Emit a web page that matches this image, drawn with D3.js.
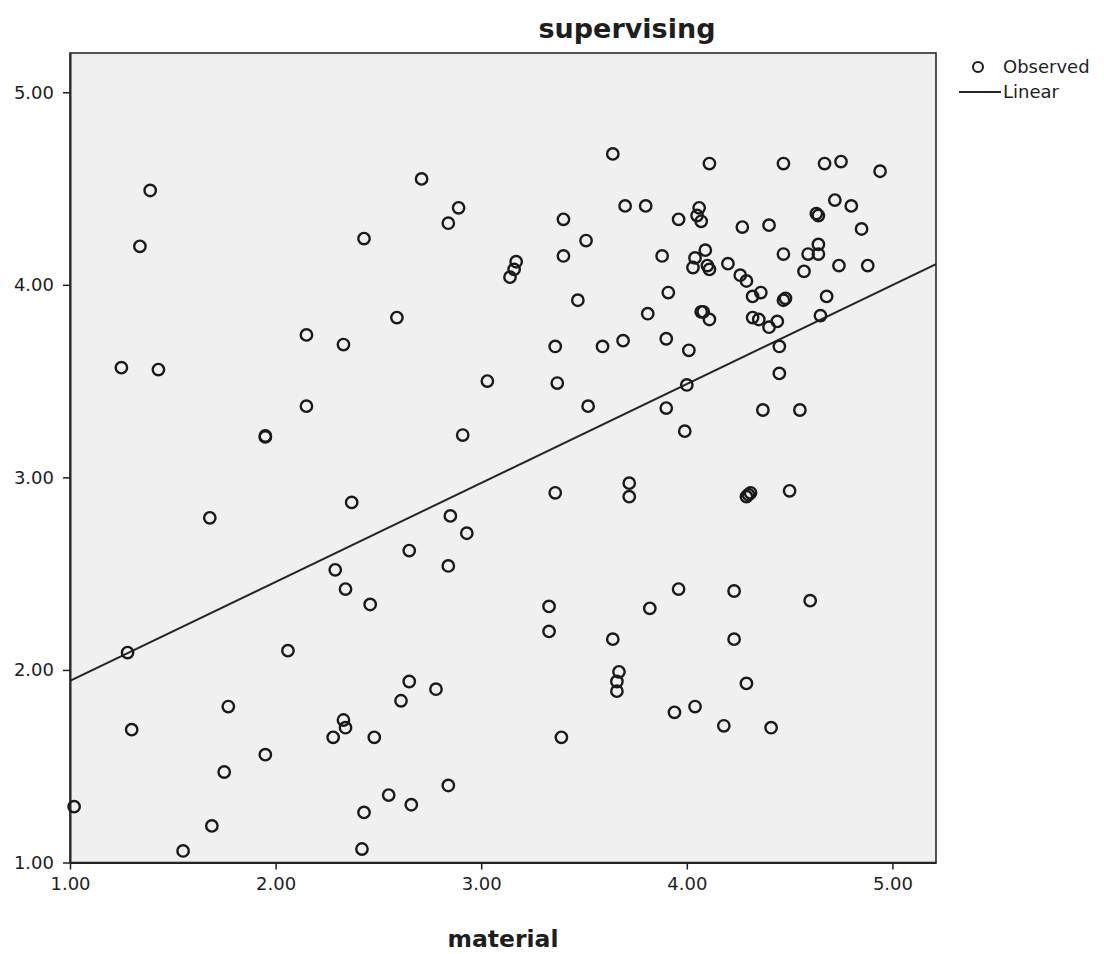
<!DOCTYPE html>
<html>
<head>
<meta charset="utf-8">
<script src="https://cdn.jsdelivr.net/npm/d3@7"></script>
<style>
body { margin: 0; background: #fff; }
text { font-family: "DejaVu Sans", sans-serif; fill: #1e1e1e; }
</style>
</head>
<body>
<svg id="chart" width="1104" height="954"></svg>
<script>
// x = material, y = supervising
material = [
    4.11, 4.47, 4.67, 4.75, 4.94, 3.70, 3.80, 3.96, 4.06, 4.05,
    4.07, 4.27, 4.40, 4.63, 4.64, 4.72, 4.80, 4.85, 3.88, 4.09,
    4.04, 4.03, 4.10, 4.11, 4.20, 4.47, 4.59, 4.64, 4.64, 4.57,
    4.74, 4.88, 4.26, 4.29, 3.91, 4.32, 4.36, 4.47, 4.48, 4.68,
    3.81, 4.07, 4.08, 4.11, 4.32, 4.35, 4.40, 4.44, 4.65, 3.69,
    3.90, 4.01, 4.45, 4.00, 4.45, 3.90, 4.37, 4.55, 3.64, 3.40,
    3.51, 3.40, 3.17, 3.16, 3.14, 3.47, 3.36, 3.59, 3.03, 3.37,
    3.52, 3.99, 3.72, 3.72, 4.30, 4.29, 4.31, 4.50, 3.36, 1.39,
    1.34, 2.15, 2.33, 1.25, 1.43, 2.15, 1.95, 1.95, 2.71, 2.89,
    2.84, 2.43, 2.59, 2.91, 2.37, 2.85, 2.93, 1.68, 2.65, 2.84,
    2.29, 2.34, 2.46, 1.28, 2.06, 2.65, 2.78, 2.61, 1.77, 1.30,
    2.33, 2.34, 2.28, 2.48, 1.95, 1.75, 2.84, 2.55, 2.66, 2.43,
    1.02, 1.69, 1.55, 2.42, 3.33, 3.33, 3.82, 3.96, 4.23, 4.60,
    3.64, 4.23, 3.67, 3.66, 3.66, 4.29, 3.94, 4.04, 4.18, 4.41,
    3.39
]

supervising = [
    4.63, 4.63, 4.63, 4.64, 4.59, 4.41, 4.41, 4.34, 4.40, 4.36,
    4.33, 4.30, 4.31, 4.37, 4.36, 4.44, 4.41, 4.29, 4.15, 4.18,
    4.14, 4.09, 4.10, 4.08, 4.11, 4.16, 4.16, 4.21, 4.16, 4.07,
    4.10, 4.10, 4.05, 4.02, 3.96, 3.94, 3.96, 3.92, 3.93, 3.94,
    3.85, 3.86, 3.86, 3.82, 3.83, 3.82, 3.78, 3.81, 3.84, 3.71,
    3.72, 3.66, 3.68, 3.48, 3.54, 3.36, 3.35, 3.35, 4.68, 4.34,
    4.23, 4.15, 4.12, 4.08, 4.04, 3.92, 3.68, 3.68, 3.50, 3.49,
    3.37, 3.24, 2.97, 2.90, 2.91, 2.90, 2.92, 2.93, 2.92, 4.49,
    4.20, 3.74, 3.69, 3.57, 3.56, 3.37, 3.21, 3.215, 4.55, 4.40,
    4.32, 4.24, 3.83, 3.22, 2.87, 2.80, 2.71, 2.79, 2.62, 2.54,
    2.52, 2.42, 2.34, 2.09, 2.10, 1.94, 1.90, 1.84, 1.81, 1.69,
    1.74, 1.70, 1.65, 1.65, 1.56, 1.47, 1.40, 1.35, 1.30, 1.26,
    1.29, 1.19, 1.06, 1.07, 2.33, 2.20, 2.32, 2.42, 2.41, 2.36,
    2.16, 2.16, 1.99, 1.94, 1.89, 1.93, 1.78, 1.81, 1.71, 1.70,
    1.65
]

// linear fit drawn in the reference: supervising = a + b * material
fitIntercept = 1.429
fitSlope = 0.514

xTicks = [1, 2, 3, 4, 5]
yTicks = [1, 2, 3, 4, 5]
xDomain = [1, 5.212]
yDomain = [1, 5.204]

chartTitle = "supervising"
xTitle = "material"
legendLabels = ["Observed", "Linear"]

var margin = {top: 53, right: 168, bottom: 91.5, left: 70}
var width = 1104 - margin.left - margin.right
var height = 954 - margin.top - margin.bottom

var svg = d3.select("#chart")

var g = svg.append("g")
    .attr("transform", "translate(" + margin.left + "," + margin.top + ")")

var x = d3.scaleLinear().domain(xDomain).range([0, width])
var y = d3.scaleLinear().domain(yDomain).range([height, 0])

g.append("clipPath").attr("id", "plot-clip")
    .append("rect").attr("width", width).attr("height", height)

g.append("rect")
    .attr("width", width)
    .attr("height", height)
    .attr("fill", "#f0f0f0")

// axes
var fmt = d3.format(".2f")

var xAxis = g.append("g")
    .attr("transform", "translate(0," + height + ")")
    .call(d3.axisBottom(x).tickValues(xTicks).tickFormat(fmt)
        .tickSize(7).tickSizeOuter(0).tickPadding(8))

var yAxis = g.append("g")
    .call(d3.axisLeft(y).tickValues(yTicks).tickFormat(fmt)
        .tickSize(7).tickSizeOuter(0).tickPadding(9))

g.selectAll(".tick text")
    .attr("font-family", "DejaVu Sans, sans-serif")
    .attr("font-size", 18)
    .attr("fill", "#262626")
g.selectAll(".tick line").attr("stroke", "#1e1e1e").attr("stroke-width", 1.5)
g.selectAll(".domain").attr("stroke", "#1e1e1e").attr("stroke-width", 2)

// frame
g.append("rect")
    .attr("width", width)
    .attr("height", height)
    .attr("fill", "none")
    .attr("stroke", "#2a2a2a")
    .attr("stroke-width", 1.6)

// regression line
g.append("line")
    .attr("clip-path", "url(#plot-clip)")
    .attr("x1", x(xDomain[0]))
    .attr("y1", y(fitIntercept + fitSlope * xDomain[0]))
    .attr("x2", x(xDomain[1]))
    .attr("y2", y(fitIntercept + fitSlope * xDomain[1]))
    .attr("stroke", "#262626")
    .attr("stroke-width", 2)

// observed points
g.append("g")
    .selectAll("circle")
    .data(d3.range(material.length))
    .enter()
        .append("circle")
        .attr("cx", i => x(material[i]))
        .attr("cy", i => y(supervising[i]))
        .attr("r", 5.7)
        .attr("fill", "none")
        .attr("stroke", "#1a1a1a")
        .attr("stroke-width", 2.4)

// titles
svg.append("text")
    .attr("x", 627)
    .attr("y", 30)
    .attr("text-anchor", "middle")
    .attr("dominant-baseline", "middle")
    .attr("font-size", 27)
    .attr("font-weight", "bold")
    .text(chartTitle)

svg.append("text")
    .attr("x", margin.left + width / 2)
    .attr("y", 940)
    .attr("text-anchor", "middle")
    .attr("dominant-baseline", "middle")
    .attr("font-size", 23.5)
    .attr("font-weight", "bold")
    .text(xTitle)

// legend
var legend = svg.append("g")

legend.append("circle")
    .attr("cx", 978).attr("cy", 67).attr("r", 5)
    .attr("fill", "none").attr("stroke", "#1a1a1a").attr("stroke-width", 2)

legend.append("line")
    .attr("x1", 959).attr("x2", 1001).attr("y1", 92).attr("y2", 92)
    .attr("stroke", "#262626").attr("stroke-width", 2)

legend.selectAll("text")
    .data(legendLabels)
    .enter()
        .append("text")
        .attr("x", 1003)
        .attr("y", (d, i) => 68 + i * 25)
        .attr("dominant-baseline", "middle")
        .attr("font-size", 18)
        .text(d => d)
</script>
</body>
</html>
